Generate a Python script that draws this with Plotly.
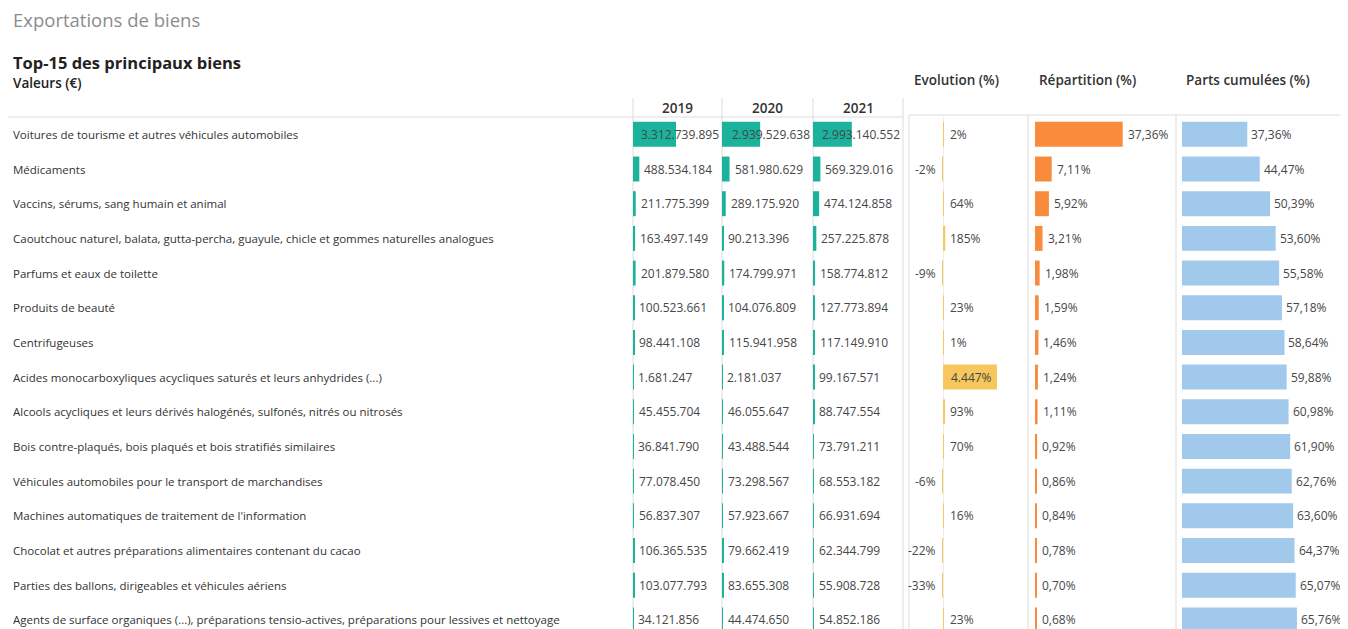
import plotly.graph_objects as go

biens = [
    "Voitures de tourisme et autres véhicules automobiles",
    "Médicaments",
    "Vaccins, sérums, sang humain et animal",
    "Caoutchouc naturel, balata, gutta-percha, guayule, chicle et gommes naturelles analogues",
    "Parfums et eaux de toilette",
    "Produits de beauté",
    "Centrifugeuses",
    "Acides monocarboxyliques acycliques saturés et leurs anhydrides (...)",
    "Alcools acycliques et leurs dérivés halogénés, sulfonés, nitrés ou nitrosés",
    "Bois contre-plaqués, bois plaqués et bois stratifiés similaires",
    "Véhicules automobiles pour le transport de marchandises",
    "Machines automatiques de traitement de l'information",
    "Chocolat et autres préparations alimentaires contenant du cacao",
    "Parties des ballons, dirigeables et véhicules aériens",
    "Agents de surface organiques (...), préparations tensio-actives, préparations pour lessives et nettoyage",
]
annees = ["2019", "2020", "2021"]
val_2019 = [3312739895, 488534184, 211775399, 163497149, 201879580, 100523661, 98441108,
            1681247, 45455704, 36841790, 77078450, 56837307, 106365535, 103077793, 34121856]
val_2020 = [2939529638, 581980629, 289175920, 90213396, 174799971, 104076809, 115941958,
            2181037, 46055647, 43488544, 73298567, 57923667, 79662419, 83655308, 44474650]
val_2021 = [2993140552, 569329016, 474124858, 257225878, 158774812, 127773894, 117149910,
            99167571, 88747554, 73791211, 68553182, 66931694, 62344799, 55908728, 54852186]
evolution = [2, -2, 64, 185, -9, 23, 1, 4447, 93, 70, -6, 16, -22, -33, 23]
repartition = [37.36, 7.11, 5.92, 3.21, 1.98, 1.59, 1.46, 1.24, 1.11, 0.92, 0.86, 0.84, 0.78, 0.70, 0.68]
cumul = [37.36, 44.47, 50.39, 53.60, 55.58, 57.18, 58.64, 59.88, 60.98, 61.90, 62.76, 63.60, 64.37, 65.07, 65.76]

# la page ajoute une marge de 8px autour de la figure
OX, OY = 8, 8
W, H = 1348 - OX, 629 - OY
FONT = "'Open Sans', sans-serif"
TXT = "#474747"
LINE = "#dcdcdc"
rows = list(range(len(biens)))
ROW_H = 34.68


def px(x):
    return (x - OX) / W


def py(y):
    return 1 - (y - OY) / H


def fr_int(v):
    return f"{v:,}".replace(",", ".")


def fr_pct(v):
    return f"{v:.2f}".replace(".", ",") + "%"


fig = go.Figure()
annotations = []

# colonnes des valeurs annuelles (teal)
cells = [(633, 722), (722, 813), (813, 903)]
eur_px = 43 / 3312739895  # pixels par euro
for k, (serie, (c0, c1)) in enumerate(zip([val_2019, val_2020, val_2021], cells)):
    ax = "x" if k == 0 else f"x{k + 1}"
    w = c1 - c0
    xmax = w / eur_px
    fig.add_trace(go.Bar(x=serie, y=rows, orientation="h", width=0.72,
                         marker=dict(color="#1bb39b", line_width=0),
                         xaxis=ax, yaxis="y", hoverinfo="skip"))
    fig.layout[("xaxis" if k == 0 else f"xaxis{k + 1}")] = dict(
        domain=[px(c0), px(c1)], range=[0, xmax], visible=False, fixedrange=True)
    for i, v in enumerate(serie):
        t = fr_int(v)
        if v * eur_px + 3 + len(t) * 6.2 > w - 1:
            annotations.append(dict(x=xmax, y=i, xref=ax, yref="y", text=t, showarrow=False,
                                    xanchor="right", xshift=-1, font=dict(size=12, color=TXT)))
        else:
            annotations.append(dict(x=v, y=i, xref=ax, yref="y", text=t, showarrow=False,
                                    xanchor="left", xshift=3, font=dict(size=12, color=TXT)))
    annotations.append(dict(x=px((c0 + c1) / 2), y=py(108), xref="paper", yref="paper",
                            text=annees[k], showarrow=False, xanchor="center", yanchor="middle",
                            font=dict(size=13.5, color="#333", weight=600)))

# Evolution (%)
ev0, ev1, evz = 909, 1028, 943
ev_px = 54 / 4447
fig.add_trace(go.Bar(x=evolution, y=rows, orientation="h", width=0.72,
                     marker=dict(color="#f6c75c", line_width=0),
                     xaxis="x4", yaxis="y", hoverinfo="skip"))
fig.layout.xaxis4 = dict(domain=[px(ev0), px(ev1)],
                         range=[-(evz - ev0) / ev_px, (ev1 - evz) / ev_px],
                         showgrid=False, showticklabels=False, ticks="",
                         zeroline=True, zerolinecolor="#ececec", zerolinewidth=1,
                         showline=False, fixedrange=True)
for i, v in enumerate(evolution):
    t = f"{v:,}%".replace(",", ".")
    if v < 0:
        a = dict(x=0, xanchor="right", xshift=-5)
    elif v * ev_px > len(t) * 6.5 + 6:
        a = dict(x=v, xanchor="right", xshift=-3)
    else:
        a = dict(x=0, xanchor="left", xshift=5)
    annotations.append(dict(y=i, xref="x4", yref="y", text=t, showarrow=False,
                            font=dict(size=12, color=TXT), **a))

# Répartition (%)
rp0, rp1, rpz = 1028, 1176, 1035
rp_px = 87.7 / 37.36
fig.add_trace(go.Bar(x=repartition, y=rows, orientation="h", width=0.72,
                     marker=dict(color="#f98b3d", line_width=0),
                     xaxis="x5", yaxis="y", hoverinfo="skip"))
fig.layout.xaxis5 = dict(domain=[px(rp0), px(rp1)],
                         range=[-(rpz - rp0) / rp_px, (rp1 - rpz) / rp_px],
                         visible=False, fixedrange=True)
for i, v in enumerate(repartition):
    annotations.append(dict(x=v, y=i, xref="x5", yref="y", text=fr_pct(v), showarrow=False,
                            xanchor="left", xshift=3, font=dict(size=12, color=TXT)))

# Parts cumulées (%)
pc0, pc1, pcz = 1176, 1348, 1182
pc_px = 65.3 / 37.36
fig.add_trace(go.Bar(x=cumul, y=rows, orientation="h", width=0.72,
                     marker=dict(color="#a0c9eb", line_width=0),
                     xaxis="x6", yaxis="y", hoverinfo="skip"))
fig.layout.xaxis6 = dict(domain=[px(pc0), px(pc1)],
                         range=[-(pcz - pc0) / pc_px, (pc1 - pcz) / pc_px],
                         visible=False, fixedrange=True)
for i, v in enumerate(cumul):
    annotations.append(dict(x=v, y=i, xref="x6", yref="y", text=fr_pct(v), showarrow=False,
                            xanchor="left", xshift=2, font=dict(size=12, color=TXT)))

# libellés des biens
for i, b in enumerate(biens):
    annotations.append(dict(x=px(11), y=i, xref="paper", yref="y", text=b, showarrow=False,
                            xanchor="left", font=dict(size=11.5, color="#333")))

# titres
annotations += [
    dict(x=px(11), y=py(20), text="Exportations de biens",
         font=dict(size=18.5, color="#8c8c8c")),
    dict(x=px(11), y=py(63), text="Top-15 des principaux biens",
         font=dict(size=16.5, color="#222", weight=700)),
    dict(x=px(11), y=py(83), text="Valeurs (€)",
         font=dict(size=13.5, color="#222", weight=600)),
    dict(x=px(912), y=py(80), text="Evolution (%)",
         font=dict(size=13.5, color="#333", weight=600)),
    dict(x=px(1037), y=py(80), text="Répartition (%)",
         font=dict(size=13.5, color="#333", weight=600)),
    dict(x=px(1184), y=py(80), text="Parts cumulées (%)",
         font=dict(size=13.5, color="#333", weight=600)),
]
for a in annotations[-6:]:
    a.update(xref="paper", yref="paper", showarrow=False, xanchor="left", yanchor="middle")

# lignes de séparation
shapes = [dict(type="line", x0=0, x1=px(903), y0=py(117), y1=py(117))]
for xv in [633, 722, 813, 903]:
    shapes.append(dict(type="line", x0=px(xv), x1=px(xv), y0=py(98), y1=0))
shapes.append(dict(type="line", x0=px(909), x1=1, y0=py(115), y1=py(115)))
for xv in [909, 1028, 1176]:
    shapes.append(dict(type="line", x0=px(xv), x1=px(xv), y0=py(115), y1=0))
for s in shapes:
    s.update(xref="paper", yref="paper", line=dict(color=LINE, width=1), layer="below")

fig.update_layout(
    width=W, height=H, margin=dict(l=0, r=0, t=0, b=0),
    paper_bgcolor="white", plot_bgcolor="rgba(0,0,0,0)",
    font=dict(family=FONT, color=TXT),
    showlegend=False, barmode="overlay",
    yaxis=dict(domain=[0, py(117)], range=[-0.5 + (629 - 117) / ROW_H, -0.5],
               visible=False, fixedrange=True),
    annotations=annotations, shapes=shapes,
)

fig.write_html("out.html", config={"displayModeBar": False})
